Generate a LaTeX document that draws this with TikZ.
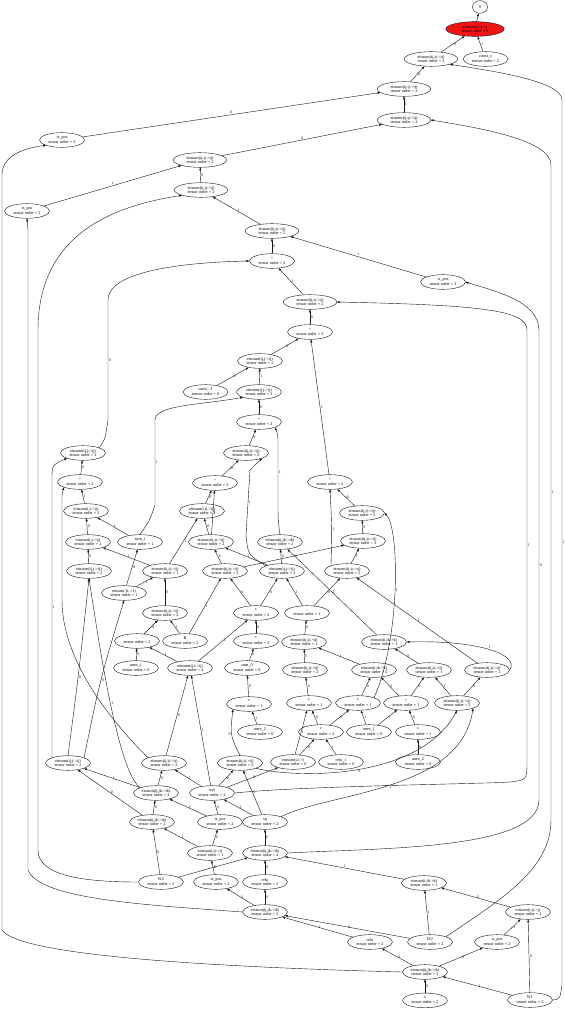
\documentclass[tikz,border=0pt]{standalone}
\usepackage{fontspec}
\setmainfont{Liberation Serif}
\usepackage{tikz}
\usetikzlibrary{shapes.geometric, arrows.meta, positioning}
\definecolor{mydark}{RGB}{25,25,25}
\definecolor{myred}{RGB}{240,20,20}
\newcommand{\graphfont}{\fontsize{3.6}{4.1}\selectfont}
\newcommand{\edgefont}{\fontsize{3.4}{4}\selectfont}
\tikzset{
  opnode/.style={ellipse, draw=mydark, line width=0.35pt,
    minimum width=1.35cm, minimum height=0.44cm, inner sep=0.4pt,
    align=center, font=\graphfont},
  widenode/.style={opnode, minimum width=1.6cm},
  rootnode/.style={opnode, fill=myred, minimum width=1.75cm},
  arrow/.style={-{Triangle[length=2.4pt, width=1.8pt]}, line width=0.35pt, color=mydark},
  elabel/.style={font=\edgefont, inner sep=0.6pt, right}
}

\begin{document}
\begin{tikzpicture}[x=0.03cm, y=-0.03cm]
  \useasboundingbox (0,0) rectangle (565,1011);

  % output chain
  \node[opnode, minimum width=0.45cm, minimum height=0.38cm] (t0) at (480,7) {0};
  \node[rootnode] (t1) at (475,29) {einsum(ij,ij->)\\tensor order = 0};
  \node[widenode] (t2) at (431,59) {einsum(ij,ij->ij)\\tensor order = 2};
  \node[opnode, right=0.15cm of t2] (t3) {const\_c\\tensor order = 2};
  \node[widenode] (t4) at (404,89) {einsum(ij,ij->ij)\\tensor order = 2};
  \node[widenode] (t5) at (404,120) {einsum(ij,ij->ij)\\tensor order = 2};
  \node[opnode] (t6) at (62,140) {is\_pos\\tensor order = 2};
  \node[widenode] (t7) at (200,160) {einsum(ij,ij->ij)\\tensor order = 2};
  \node[widenode] (t8) at (201,190) {einsum(ij,ij->ij)\\tensor order = 2};
  \node[opnode] (t9) at (27,211) {is\_pos\\tensor order = 2};
  \node[widenode] (t10) at (272,231) {einsum(ij,ij->ij)\\tensor order = 2};
  \node[opnode] (t11) at (272,261) {+\\tensor order = 2};
  \node[opnode] (t12) at (443,282) {is\_pos\\tensor order = 2};
  \node[widenode] (t13) at (310,302) {einsum(ij,ij->ij)\\tensor order = 2};
  \node[opnode] (t14) at (310,332) {+\\tensor order = 2};
  \node[opnode] (t15) at (260,361) {einsum(ij,j->ij)\\tensor order = 2};
  \node[opnode] (t17) at (259,392) {einsum(ij,j->ij)\\tensor order = 2};
  \node[opnode, left=0.24cm of t17] (t16) {const\_-1\\tensor order = 0};
  \node[opnode] (t18) at (259,422) {+\\tensor order = 2};
  \node[opnode] (t19) at (246,453) {einsum(ij,ij->ij)\\tensor order = 2};
  \node[opnode] (t20) at (83,453) {einsum(ij,j->ij)\\tensor order = 2};
  \node[opnode] (t21) at (215,483) {+\\tensor order = 2};
  \node[opnode] (t22) at (80,482) {+\\tensor order = 2};
  \node[opnode] (t23) at (330,482) {+\\tensor order = 2};

  % inner graph
  \node[opnode] (a1) at (86,511) {einsum(i,j->ij)\\tensor order = 2};
  \node[opnode] (a2) at (202,511) {einsum(i,ij->ij)\\tensor order = 2};
  \node[opnode] (a3) at (362,513) {einsum(ij,ij->ij)\\tensor order = 2};
  \node[opnode] (b1) at (88,542) {einsum(i,j->ij)\\tensor order = 2};
  \node[opnode] (b2) at (140,542) {sum\_i\\tensor order = 1};
  \node[opnode] (b3) at (211,542) {einsum(ij,ij->ij)\\tensor order = 2};
  \node[opnode] (b4) at (280,542) {einsum(ij,jk->ik)\\tensor order = 2};
  \node[opnode] (b5) at (363,541) {einsum(ij,ij->ij)\\tensor order = 2};
  \node[opnode] (c1) at (89,571) {einsum(ij,j->ij)\\tensor order = 2};
  \node[opnode] (c2) at (165,571) {einsum(ij,ij->ij)\\tensor order = 1};
  \node[opnode] (c3) at (225,571) {einsum(ij,ij->ij)\\tensor order = 2};
  \node[opnode] (c4) at (282,571) {einsum(ij,j->ij)\\tensor order = 2};
  \node[opnode] (c5) at (347,571) {einsum(ij,ij->ij)\\tensor order = 2};
  \node[opnode] (d1) at (124,593) {einsum'(i,->i)\\tensor order = 1};
  \node[opnode] (e1) at (165,613) {einsum(ij,ij->ij)\\tensor order = 2};
  \node[opnode] (e2) at (256,613) {*\\tensor order = 2};
  \node[opnode] (e3) at (307,613) {-\\tensor order = 1};
  \node[opnode] (f1) at (137,641) {-\\tensor order = 2};
  \node[opnode] (f2) at (185,641) {B\\tensor order = 2};
  \node[opnode] (f3) at (256,641) {*\\tensor order = 2};
  \node[opnode] (f4) at (304,642) {einsum(ij,ij->ij)\\tensor order = 1};
  \node[opnode] (f5) at (384,642) {einsum(i,ik->k)\\tensor order = 1};
  \node[opnode] (g1) at (136,668) {ones\_1\\tensor order = 0};
  \node[opnode] (g2) at (190,668) {einsum(ij,i->ij)\\tensor order = 2};
  \node[opnode] (g3) at (247,668) {sum\_0\\tensor order = 0};
  \node[opnode] (g4) at (305,670) {einsum(ij,ij->ij)\\tensor order = 2};
  \node[opnode] (g5) at (374,670) {einsum(i,ik->k)\\tensor order = 2};
  \node[opnode] (g6) at (429,670) {einsum(ij,ij->ij)\\tensor order = 1};
  \node[opnode] (g7) at (487,670) {einsum(ij,ij->ij)\\tensor order = 1};
  \node[opnode] (h1) at (249,704) {*\\tensor order = 1};
  \node[opnode] (h2) at (309,703) {*\\tensor order = 1};
  \node[opnode] (h3) at (358,703) {*\\tensor order = 1};
  \node[opnode] (h4) at (406,703) {+\\tensor order = 1};
  \node[opnode] (h5) at (457,703) {einsum(ij,ij->ij)\\tensor order = 2};
  \node[opnode] (i1) at (260,732) {ones\_2\\tensor order = 0};
  \node[opnode] (i2) at (321,732) {*\\tensor order = 2};
  \node[opnode] (i3) at (369,732) {ones\_1\\tensor order = 0};
  \node[opnode] (i4) at (418,732) {*\\tensor order = 1};
  \node[opnode] (j1) at (68,763) {einsum(ij,j->ij)\\tensor order = 2};
  \node[opnode] (j2) at (164,763) {einsum(ij,ij->ij)\\tensor order = 2};
  \node[opnode] (j3) at (240,763) {einsum(ij,ij->ij)\\tensor order = 2};
  \node[opnode] (j4) at (293,762) {einsum(i,i->)\\tensor order = 0};
  \node[opnode] (j5) at (341,762) {relu\_1\\tensor order = 0};
  \node[opnode] (j6) at (418,762) {ones\_2\\tensor order = 0};
  \node[opnode] (k1) at (156,793) {einsum(ij,jk->ik)\\tensor order = 2};
  \node[opnode] (k2) at (212,793) {sq3\\tensor order = 2};
  \node[opnode] (l1) at (152,822) {einsum(ij,jk->ik)\\tensor order = 2};
  \node[opnode] (l2) at (220,822) {is\_pos\\tensor order = 2};
  \node[opnode] (l3) at (265,822) {sq\\tensor order = 2};
  \node[opnode] (m1) at (210,853) {einsum(i,ij->j)\\tensor order = 1};
  \node[opnode] (m2) at (265,853) {einsum(ij,jk->ik)\\tensor order = 2};
  \node[opnode] (n1) at (161,882) {W2\\tensor order = 2};
  \node[opnode] (n2) at (216,882) {is\_pos\\tensor order = 2};
  \node[opnode] (n3) at (265,882) {relu\\tensor order = 2};
  \node[opnode] (n4) at (424,883) {einsum(i,ik->k)\\tensor order = 1};
  \node[opnode] (o1) at (265,912) {einsum(ij,jk->ik)\\tensor order = 2};
  \node[opnode] (o2) at (528,912) {einsum(i,ij->j)\\tensor order = 1};
  \node[opnode] (p1) at (370,942) {relu\\tensor order = 2};
  \node[opnode] (p2) at (430,942) {W2\\tensor order = 2};
  \node[opnode] (p3) at (497,942) {is\_pos\\tensor order = 2};
  \node[opnode] (q1) at (425,972) {einsum(ij,jk->ik)\\tensor order = 2};
  \node[opnode, below=0.4cm of q1] (r1) {x\\tensor order = 2};
  \node[opnode] (r2) at (530,1000) {W1\\tensor order = 2};

  % upper edges
  \draw[arrow] (t1) -- (t0);
  \draw[arrow] (t2) -- node[elabel]{0} (t1);
  \draw[arrow] (t3) -- node[elabel]{1} (t1);
  \draw[arrow] (t4) -- node[elabel]{0} (t2);
  \draw[arrow] (t5) -- node[elabel]{1} (t4);
  \draw[arrow] (t6) -- node[elabel, above]{0} (t4);
  \draw[arrow] (t7) -- node[elabel, above]{0} (t5);
  \draw[arrow] (t8) -- node[elabel]{0} (t7);
  \draw[arrow] (t9) -- node[elabel, above]{1} (t7);
  \draw[arrow] (t10) -- node[elabel]{1} (t8);
  \draw[arrow] (t11) -- node[elabel]{0} (t10);
  \draw[arrow] (t12) -- node[elabel, above]{1} (t10);
  \draw[arrow] (t13) -- node[elabel]{1} (t11);
  \draw[arrow] (t14) -- node[elabel]{0} (t13);
  \draw[arrow] (t15) -- node[elabel]{0} (t14);
  \draw[arrow] (t23) -- node[elabel]{1} (t14);
  \draw[arrow] (t16) -- node[elabel]{0} (t15);
  \draw[arrow] (t17) -- node[elabel]{1} (t15);
  \draw[arrow] (t18) -- node[elabel]{0} (t17);
  \draw[arrow] (t19) -- node[elabel]{0} (t18);
  \draw[arrow] (t21) -- node[elabel]{0} (t19);
  \draw[arrow] (t22) -- node[elabel]{0} (t20);
  \draw[arrow] (a1) -- node[elabel]{1} (t22);
  \draw[arrow] (a2) -- node[elabel]{0} (t21);
  \draw[arrow] (b3) -- node[elabel]{1} (t21);
  \draw[arrow] (a3) -- node[elabel]{0} (t23);

  % long routes along the sides
  \draw[arrow] (r2.east) .. controls (560,999) .. (562,985)
    -- node[elabel]{1} (562,100) .. controls (562,82) and (500,72) .. (t2.south east);
  \draw[arrow] (p2.north east) .. controls (500,900) and (551,870) .. (551,820)
    -- node[elabel]{1} (551,165) .. controls (551,140) and (480,128) .. (t5.east);
  \draw[arrow] (m2.east) .. controls (380,848) and (539,850) .. (539,800)
    -- node[elabel]{0} (539,330) .. controls (539,300) and (490,290) .. (t12.east);
  \draw[arrow] (k2.east) .. controls (300,786) and (480,784) .. (510,782) .. controls (527,780) .. (527,760)
    -- node[elabel]{1} (527,330) .. controls (527,310) and (480,305) .. (t13.east);
  \draw[arrow] (q1.west) .. controls (250,968) and (20,958) .. (2,930)
    -- (2,175) .. controls (2,155) and (25,148) .. (t6.south west);
  \draw[arrow] (o1.west) .. controls (150,905) and (40,900) .. (28,870) -- (28,230) -- (t9.south);
  \draw[arrow] (n1.west) .. controls (80,882) and (38,875) .. (38,850)
    -- (38,330) .. controls (38,230) and (120,205) .. (t8.south west);
  \draw[arrow] (j1.north west) .. controls (52,750) .. (52,735)
    -- node[elabel]{1} (52,480) .. controls (52,465) .. (t20.south west);
  \draw[arrow] (t20.north east) .. controls (105,440) .. (108,420)
    -- node[elabel]{0} (108,300) .. controls (108,268) and (200,262) .. (t11.west);
  \draw[arrow] (b2.north) .. controls (150,520) .. (155,505)
    -- node[elabel]{1} (155,420) .. controls (155,405) and (200,405) .. (t17.south west);
  \draw[arrow] (b4.north) .. controls (278,520) .. (278,500)
    -- node[elabel]{1} (278,445) .. controls (278,435) .. (t18.south east);
  \draw[arrow] (c4.north west) .. controls (248,555) .. (246,535)
    -- node[elabel]{1} (250,470) -- (t19.south east);
  \draw[arrow] (j2.north west) .. controls (110,720) and (62,660) .. (62,600)
    -- (62,500) .. controls (62,494) .. (t22.south west);
  \draw[arrow] (c5.north west) .. controls (332,530) .. node[elabel]{1} (t23.south);
  \draw[arrow] (h3.north east) .. controls (400,640) and (400,530) .. node[elabel]{1} (a3.east);
  \draw[arrow] (g7.east) .. controls (520,655) and (480,640) .. node[elabel, above]{1} (f5.east);
  \draw[arrow] (j3.south east) .. controls (300,779) and (420,779) .. node[elabel, below]{0} (h5.south);
  \draw[arrow] (l3.north east) .. controls (330,792) and (460,792) .. node[elabel, below]{1} (h5.south east);

  % inner edges
  \draw[arrow] (b1) -- node[elabel]{0} (a1);
  \draw[arrow] (b2) -- node[elabel]{1} (a1);
  \draw[arrow] (b3) -- node[elabel]{0} (a2);
  \draw[arrow] (c2) -- node[elabel]{1} (a2);
  \draw[arrow] (b5) -- node[elabel]{0} (a3);
  \draw[arrow] (c1) -- node[elabel]{0} (b1);
  \draw[arrow] (c2) -- node[elabel]{1} (b1);
  \draw[arrow] (d1) -- node[elabel]{0} (b2);
  \draw[arrow] (c3) -- node[elabel]{0} (b3);
  \draw[arrow] (c4) -- node[elabel]{1} (b3);
  \draw[arrow] (c4) -- node[elabel]{0} (b4);
  \draw[arrow] (f5) -- node[elabel]{1} (b4);
  \draw[arrow] (c5) -- node[elabel]{1} (b5);
  \draw[arrow] (c3) -- node[elabel]{0} (b5);
  \draw[arrow] (j1.north) .. controls (78,680) .. node[elabel]{0} (c1.south);
  \draw[arrow] (k1.north west) .. controls (118,770) and (100,650) .. node[elabel]{1} (c1.south);
  \draw[arrow] (e1) -- node[elabel]{0} (c2);
  \draw[arrow] (d1) -- node[elabel]{1} (c2);
  \draw[arrow] (e2) -- node[elabel]{0} (c3);
  \draw[arrow] (f2) -- node[elabel]{1} (c3);
  \draw[arrow] (e2) -- node[elabel]{0} (c4);
  \draw[arrow] (e3) -- node[elabel]{1} (c4);
  \draw[arrow] (e3) -- node[elabel]{0} (c5);
  \draw[arrow] (g7) -- node[elabel]{1} (c5);
  \draw[arrow] (j1.north east) .. controls (100,680) .. node[elabel]{0} (d1.south);
  \draw[arrow] (f1) -- node[elabel]{0} (e1);
  \draw[arrow] (f2) -- node[elabel]{1} (e1);
  \draw[arrow] (f3) -- node[elabel]{0} (e2);
  \draw[arrow] (g2) -- node[elabel]{1} (e2);
  \draw[arrow] (f4) -- node[elabel]{0} (e3);
  \draw[arrow] (g1) -- node[elabel]{0} (f1);
  \draw[arrow] (g2) -- node[elabel]{1} (f1);
  \draw[arrow] (g3) -- node[elabel]{0} (f3);
  \draw[arrow] (g4) -- node[elabel]{0} (f4);
  \draw[arrow] (g5) -- node[elabel]{1} (f4);
  \draw[arrow] (g6) -- node[elabel]{0} (f5);
  \draw[arrow] (j2) -- node[elabel]{0} (g2);
  \draw[arrow] (k2) -- node[elabel]{1} (g2);
  \draw[arrow] (h1) -- node[elabel]{0} (g3);
  \draw[arrow] (h2) -- node[elabel]{0} (g4);
  \draw[arrow] (h3) -- node[elabel]{0} (g5);
  \draw[arrow] (h4) -- node[elabel]{1} (g5);
  \draw[arrow] (h4) -- node[elabel]{0} (g6);
  \draw[arrow] (h5) -- node[elabel]{1} (g6);
  \draw[arrow] (h5) -- node[elabel]{0} (g7);
  \draw[arrow] (j3.north) .. controls (230,735) .. node[elabel, left]{0} (h1.south west);
  \draw[arrow] (i1) -- node[elabel]{1} (h1);
  \draw[arrow] (i2) -- node[elabel]{0} (h2);
  \draw[arrow] (j4) -- node[elabel]{1} (h2);
  \draw[arrow] (i2) -- node[elabel]{0} (h3);
  \draw[arrow] (i3) -- node[elabel]{1} (h3);
  \draw[arrow] (i4) -- node[elabel]{0} (h4);
  \draw[arrow] (i3) -- node[elabel]{1} (h4);
  \draw[arrow] (j4) -- node[elabel]{0} (i2);
  \draw[arrow] (j5) -- node[elabel]{1} (i2);
  \draw[arrow] (j6) -- node[elabel]{0} (i4);
  \draw[arrow] (k1) -- node[elabel]{1} (j1);
  \draw[arrow] (l1) -- node[elabel]{0} (j1);
  \draw[arrow] (k1) -- node[elabel]{0} (j2);
  \draw[arrow] (k2) -- node[elabel]{1} (j2);
  \draw[arrow] (k2) -- node[elabel]{0} (j3);
  \draw[arrow] (l3) -- node[elabel]{1} (j3);
  \draw[arrow] (k2) -- node[elabel]{0} (j4);
  \draw[arrow] (l1) -- node[elabel]{0} (k1);
  \draw[arrow] (l2) -- node[elabel]{1} (k1);
  \draw[arrow] (l2) -- node[elabel]{0} (k2);
  \draw[arrow] (l3) -- node[elabel]{1} (k2);
  \draw[arrow] (n1) -- node[elabel]{0} (l1);
  \draw[arrow] (m1) -- node[elabel]{1} (l1);
  \draw[arrow] (m1) -- node[elabel]{0} (l2);
  \draw[arrow] (m2) -- node[elabel]{0} (l3);
  \draw[arrow] (n2) -- node[elabel]{0} (m1);
  \draw[arrow] (n3) -- node[elabel]{0} (m2);
  \draw[arrow] (n1) -- node[elabel]{1} (m2);
  \draw[arrow] (n4) -- node[elabel, above]{1} (m2);
  \draw[arrow] (o1) -- node[elabel]{1} (n2);
  \draw[arrow] (o1) -- node[elabel]{0} (n3);
  \draw[arrow] (o2) -- node[elabel]{0} (n4);
  \draw[arrow] (p2) -- node[elabel]{1} (n4);
  \draw[arrow] (p1) -- node[elabel]{1} (o1);
  \draw[arrow] (p2) -- node[elabel]{0} (o1);
  \draw[arrow] (r2) -- node[elabel]{0} (o2);
  \draw[arrow] (p3) -- node[elabel]{1} (o2);
  \draw[arrow] (q1) -- node[elabel]{0} (p1);
  \draw[arrow] (q1) -- node[elabel]{0} (p3);
  \draw[arrow] (r1) -- node[elabel]{0} (q1);
  \draw[arrow] (r2) -- node[elabel]{1} (q1);
\end{tikzpicture}
\end{document}
